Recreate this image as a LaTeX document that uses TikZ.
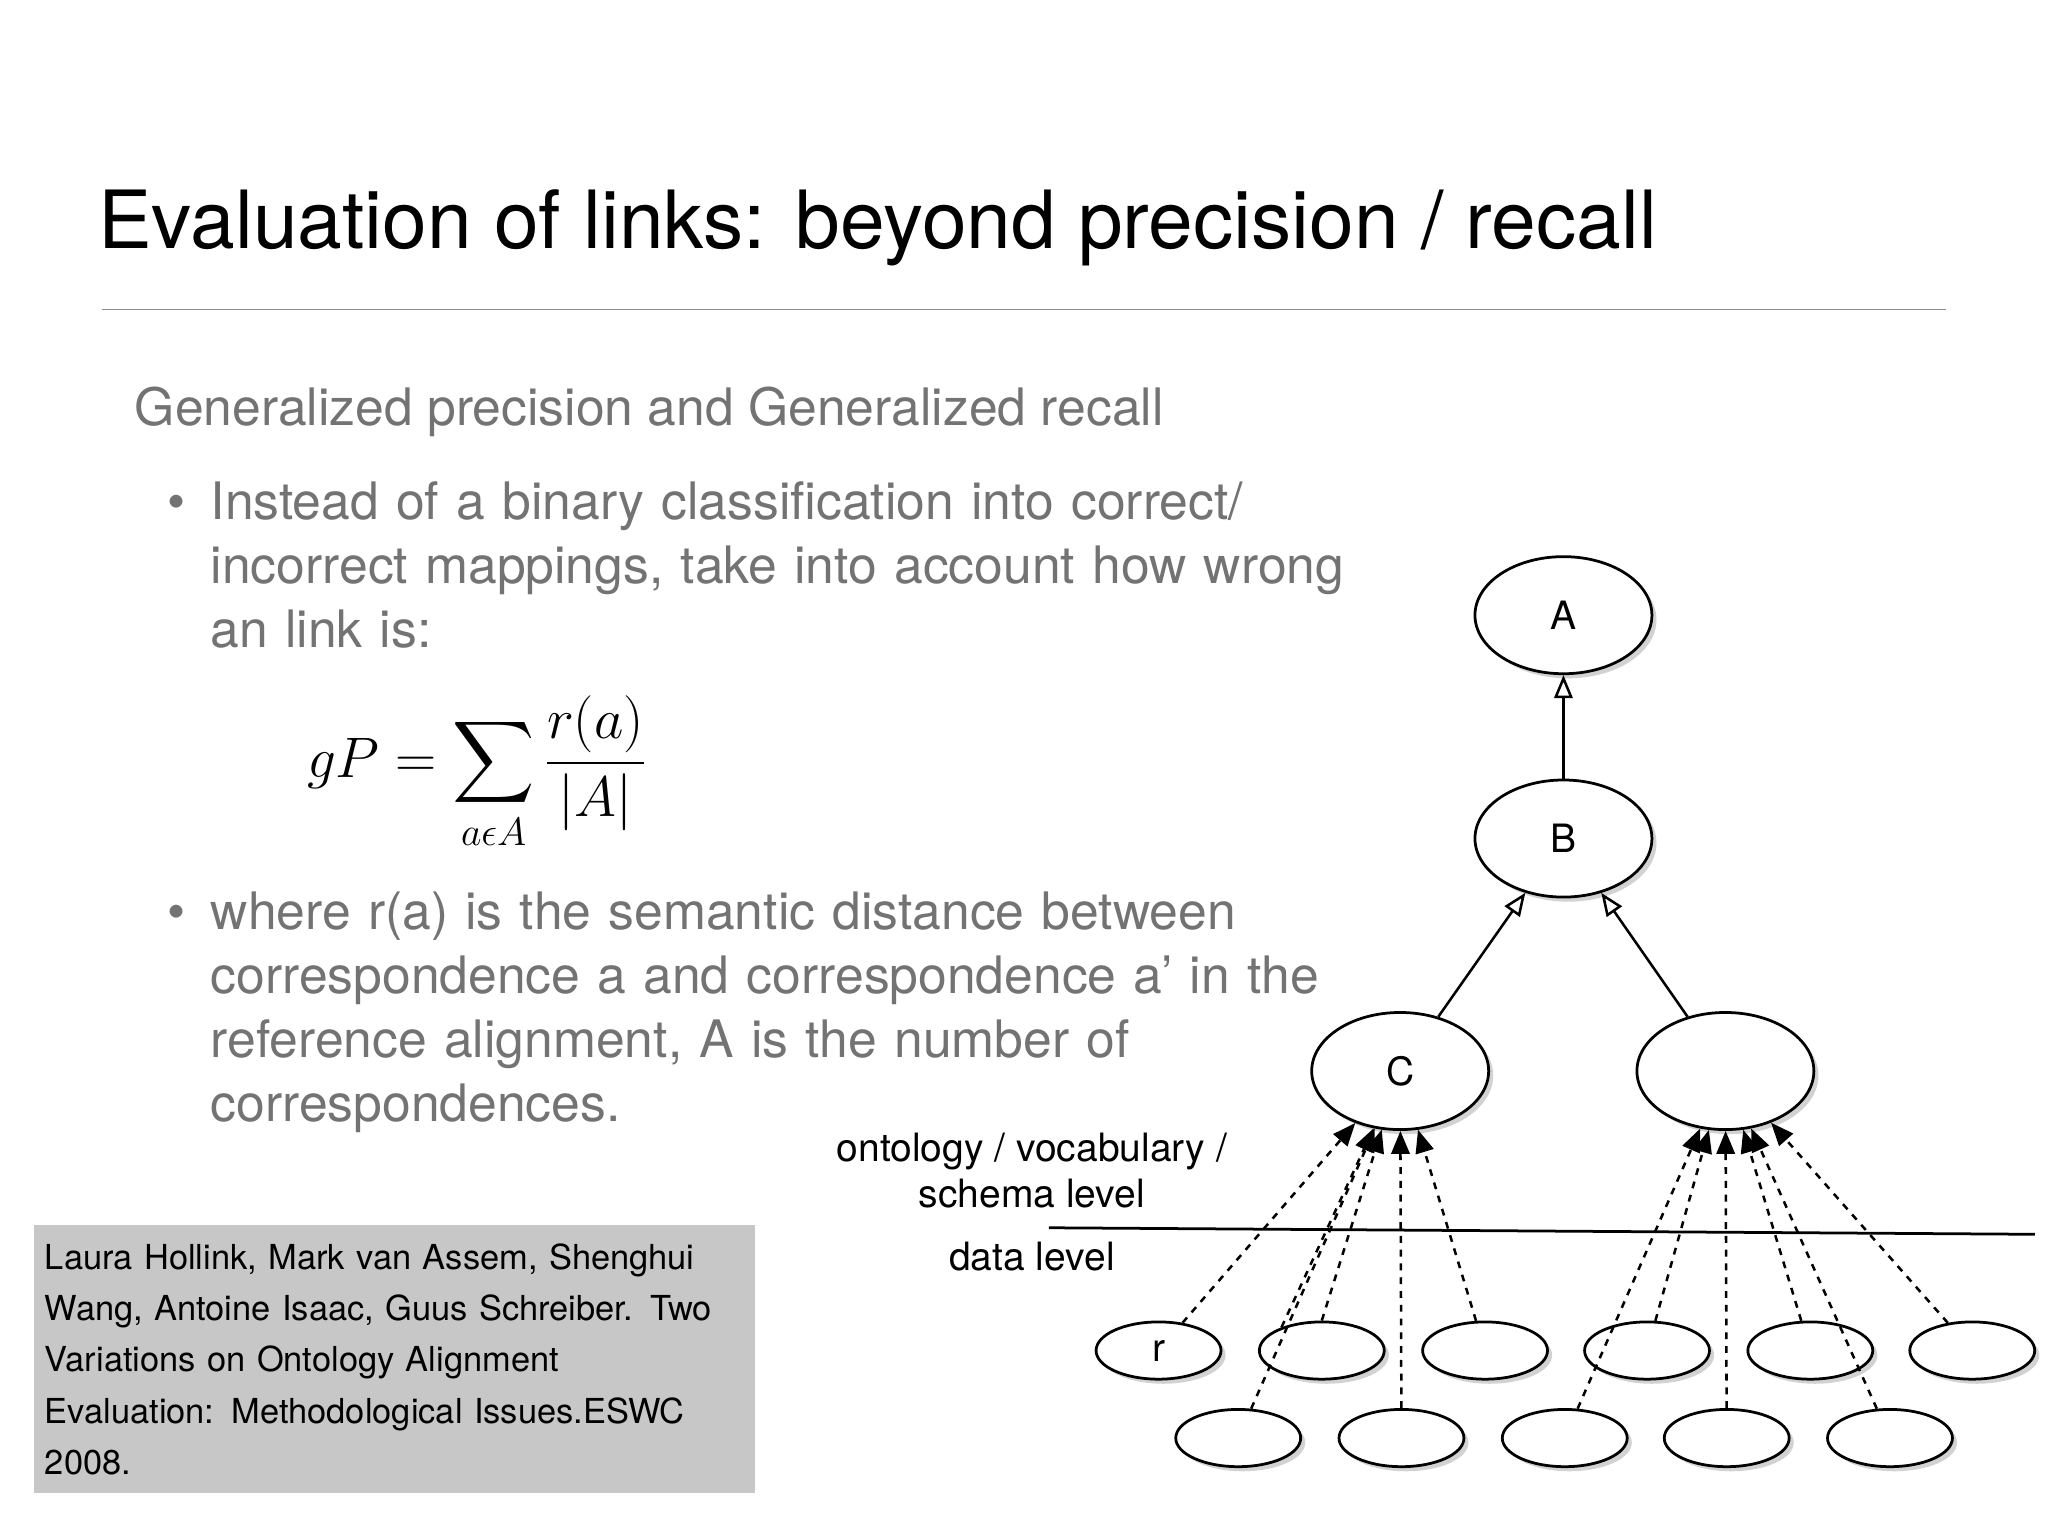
\documentclass[tikz,border=0pt]{standalone}
\usepackage{amsmath}
\usepackage{fontspec}
\setmainfont{TeX Gyre Heros}
\usetikzlibrary{arrows.meta,shadows,shapes.geometric}
\begin{document}
\begin{tikzpicture}[x=0.02cm,y=-0.02cm,
 sml/.style={ellipse,draw,line width=1.2pt,fill=white,minimum width=96*0.567pt,minimum height=44*0.567pt,inner sep=0pt,drop shadow={opacity=0.35,shadow xshift=2pt,shadow yshift=-2pt}},
 bigE/.style={ellipse,draw,line width=1.2pt,fill=white,minimum width=136*0.567pt,minimum height=90*0.567pt,inner sep=0pt,font=\fontsize{17}{20}\selectfont,drop shadow={opacity=0.35,shadow xshift=2pt,shadow yshift=-2pt}},
 isa/.style={line width=1.1pt,-{Triangle[open,length=10pt,width=8pt]}},
 inst/.style={line width=1.1pt,dashed,-{Triangle[length=10pt,width=8pt]}},
 gtxt/.style={text=black!55,font=\fontsize{22.5}{27.8}\selectfont,anchor=north west,align=left,inner sep=0pt}]
\useasboundingbox (0,0) rectangle (1568,1176);
\fill[white] (0,0) rectangle (1568,1176);
\node[anchor=base west,inner sep=0pt,font=\fontsize{35}{42}\selectfont] (title) at (75,190) {Evaluation of links: beyond precision / recall};
\draw[black!45] (78,237) -- (1490,237);
\node[gtxt,anchor=base west] (sub) at (103,326) {Generalized precision and Generalized recall};
\node[gtxt,anchor=base west] (b1) at (128,398) {•};
\node[gtxt,anchor=base west,text width=520pt] (t1) at (161,398) {Instead of a binary classification into correct/\\incorrect mappings, take into account how wrong\\an link is:};
\node[inner sep=0pt,font=\fontsize{27}{30}\selectfont] (f) at (365,592) {$\displaystyle gP=\sum_{a\epsilon A}\frac{r(a)}{|A|}$};
\node[gtxt,anchor=base west] (b2) at (128,712) {•};
\node[gtxt,anchor=base west,text width=520pt] (t2) at (161,712) {where r(a) is the semantic distance between\\correspondence a and correspondence a’ in the\\reference alignment, A is the number of\\correspondences.};
\fill[black!22] (26,938) rectangle (578,1143);
\node[anchor=base west,inner sep=0pt,align=left,text width=300pt,font=\fontsize{15}{22.3}\selectfont] (ref) at (34,972) {Laura Hollink, Mark van Assem, Shenghui\\Wang, Antoine Isaac, Guus Schreiber. Two\\Variations on Ontology Alignment\\Evaluation: Methodological Issues.ESWC\\2008.};
% tree
\node[bigE] (A) at (1197,471) {A};
\node[bigE] (B) at (1197,642) {B};
\node[bigE] (C) at (1072,820) {C};
\node[bigE] (D) at (1321,820) {};
\draw[isa] (B) -- (A);
\draw[isa] (C) -- (B);
\draw[isa] (D) -- (B);
\node[align=center,font=\fontsize{17}{20}\selectfont] (ont) at (790,896) {ontology / vocabulary /\\schema level};
\node[font=\fontsize{17}{20}\selectfont] (dl) at (790,962) {data level};
\coordinate (l1) at (803,940); \coordinate (l2) at (1558,945);
\draw[line width=1.2pt] (l1) -- (l2);
\node[sml,font=\fontsize{17}{20}\selectfont] (r) at (887,1034) {r};
\foreach \n/\x in {a/1012,b/1137,c/1261,d/1386,e/1510} \node[sml] (\n) at (\x,1034) {};
\foreach \n/\x in {f/948,g/1073,h/1198,i/1322,j/1447} \node[sml] (\n) at (\x,1101) {};
\draw[inst] (r) -- (C);
\draw[inst] (f) -- (C);
\draw[inst] (a.150) -- (C);
\draw[inst] (a.north) -- (C);
\draw[inst] (g) -- (C);
\draw[inst] (b) -- (C);
\draw[inst] (h) -- (D);
\draw[inst] (c) -- (D);
\draw[inst] (i) -- (D);
\draw[inst] (d) -- (D);
\draw[inst] (j) -- (D);
\draw[inst] (e) -- (D);
\end{tikzpicture}
\end{document}
